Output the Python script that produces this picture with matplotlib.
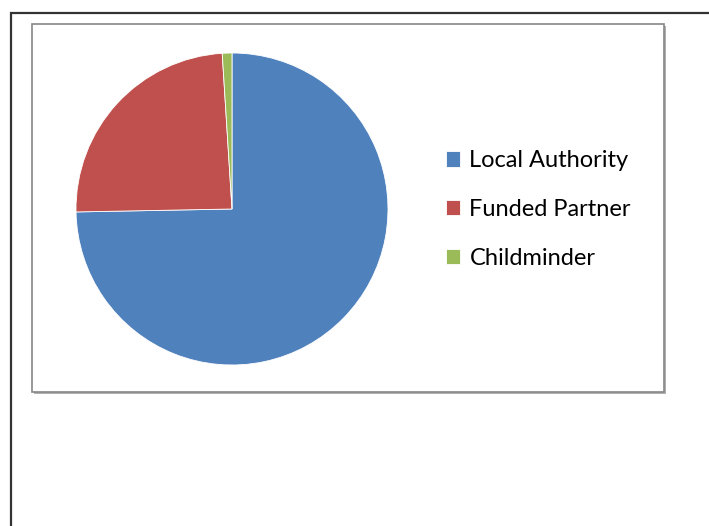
import matplotlib.pyplot as plt
from matplotlib.patches import Rectangle

# provider type shares (percent)
labels = ['Local Authority', 'Funded Partner', 'Childminder']
shares = [74.7, 24.3, 1.0]
colors = ['#4F81BD', '#C0504D', '#9BBB59']

W, H = 709, 526
fig = plt.figure(figsize=(W / 100, H / 100), dpi=100)


def px(x, y, w, h):
    # pixel box (top-left origin) -> figure fraction
    return [x / W, (H - y - h) / H, w / W, h / H]


# outer page border (runs off the right and bottom edges)
b = px(11, 13, 760, 560)
fig.patches.append(Rectangle((b[0], b[1]), b[2], b[3], transform=fig.transFigure,
                             fill=False, edgecolor='#333333', linewidth=1.6, zorder=-3))

# chart area box with a soft shadow
s = px(34, 26, 632, 368)
fig.patches.append(Rectangle((s[0], s[1]), s[2], s[3], transform=fig.transFigure,
                             facecolor='#b0b0b0', edgecolor='none', zorder=-2))
c = px(32, 24, 632, 368)
fig.patches.append(Rectangle((c[0], c[1]), c[2], c[3], transform=fig.transFigure,
                             facecolor='white', edgecolor='#868686', linewidth=1.2, zorder=-1))

ax = fig.add_axes(px(232 - 156, 209 - 156, 312, 312))
ax.set_zorder(1)
wedges, _ = ax.pie(shares, colors=colors, startangle=90, counterclock=False,
                   wedgeprops=dict(edgecolor='white', linewidth=0.6))
ax.set_xlim(-1, 1)
ax.set_ylim(-1, 1)
ax.axis('off')

leg = fig.legend(wedges, labels, loc='center left', bbox_to_anchor=(434 / W, (H - 209.5) / H),
                 frameon=False, borderpad=0, handlelength=0.62, handleheight=0.62,
                 handletextpad=0.38, labelspacing=1.17,
                 prop={'family': ['Lato', 'DejaVu Sans'], 'size': 17})
leg.set_zorder(2)

fig.savefig('out.png', dpi=100)
